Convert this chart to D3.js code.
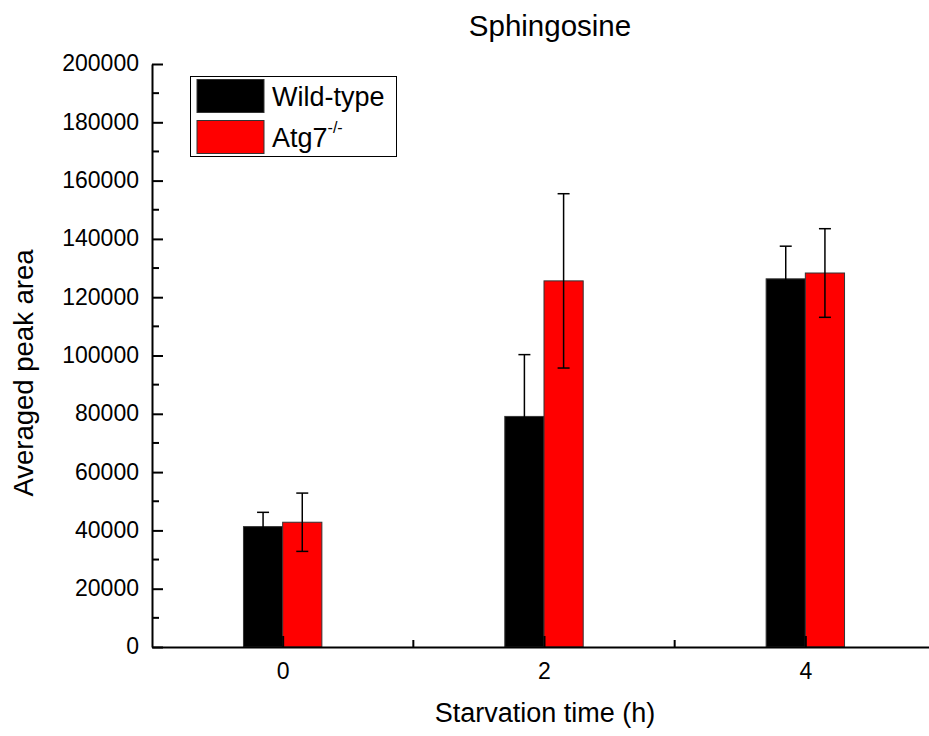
<!DOCTYPE html>
<html><head><meta charset="utf-8">
<script src="https://cdn.jsdelivr.net/npm/d3@7"></script>
<style>body{margin:0;background:#fff}svg{display:block;font-family:Arial,"Liberation Sans",sans-serif}</style>
</head><body>
<svg id="c" width="929" height="736"></svg>
<script>
const categories = [0, 2, 4];
const wildType = [41300, 79100, 126300];
const wildTypeErr = [4900, 21200, 11200];
const atg7 = [42800, 125600, 128300];
const atg7Err = [10000, 29900, 15200];
const yTicks = [0, 20000, 40000, 60000, 80000, 100000, 120000, 140000, 160000, 180000, 200000];
const seriesNames = ["Wild-type", "Atg7"];
const seriesColors = ["#000000", "#ff0000"];

const svg = d3.select("#c");
const x = d3.scaleLinear().domain([-1, 5]).range([152, 936]);
const y = d3.scaleLinear().domain([0, 200000]).range([647, 64]);
const bw = x(0.3) - x(0);
const FONT = "Arial, 'Liberation Sans', sans-serif";

// bars
const series = [
  {vals: wildType, errs: wildTypeErr, off: -0.3, color: seriesColors[0]},
  {vals: atg7, errs: atg7Err, off: 0, color: seriesColors[1]}
];
series.forEach(s => {
  const g = svg.append("g");
  g.selectAll("rect").data(categories).enter().append("rect")
    .attr("x", (d) => x(d + s.off))
    .attr("y", (d, i) => y(s.vals[i]))
    .attr("width", bw)
    .attr("height", (d, i) => y(0) - y(s.vals[i]))
    .attr("fill", s.color)
    .attr("stroke", "#333").attr("stroke-width", 1);
});
series.forEach(s => {
  const g = svg.append("g").attr("stroke", "#000").attr("stroke-width", 1.5);
  categories.forEach((d, i) => {
    const cx = x(d + s.off + 0.15);
    const top = y(s.vals[i] + s.errs[i]);
    const bot = y(s.vals[i] - s.errs[i]);
    g.append("line").attr("x1", cx).attr("x2", cx).attr("y1", top).attr("y2", bot);
    g.append("line").attr("x1", cx - 6).attr("x2", cx + 6).attr("y1", top).attr("y2", top);
    g.append("line").attr("x1", cx - 6).attr("x2", cx + 6).attr("y1", bot).attr("y2", bot);
  });
});

// y axis
const yAxis = d3.axisLeft(y).tickValues(yTicks).tickFormat(d3.format("d")).tickSizeInner(-11).tickSizeOuter(0).tickPadding(13);
const ya = svg.append("g").attr("transform", "translate(152,0)").call(yAxis);
ya.select(".domain").attr("stroke-width", 2);
ya.selectAll(".tick line").attr("stroke-width", 2);
ya.selectAll("text").attr("font-size", 23).attr("dy", "0.3em").attr("fill", "#000").attr("font-family", FONT);
const yMinor = d3.range(10000, 200000, 20000);
svg.append("g").selectAll("line").data(yMinor).enter().append("line")
  .attr("x1", 152).attr("x2", 159).attr("y1", d => y(d)).attr("y2", d => y(d))
  .attr("stroke", "#000").attr("stroke-width", 2);

// x axis
const xAxis = d3.axisBottom(x).tickValues(categories).tickFormat(d3.format("d")).tickSizeInner(-11).tickSizeOuter(0).tickPadding(16);
const xa = svg.append("g").attr("transform", "translate(0,647)").call(xAxis);
xa.select(".domain").attr("stroke-width", 2);
xa.selectAll(".tick line").attr("stroke-width", 2);
xa.selectAll("text").attr("font-size", 23).attr("fill", "#000").attr("font-family", FONT);
svg.append("g").selectAll("line").data([1, 3]).enter().append("line")
  .attr("x1", d => x(d)).attr("x2", d => x(d)).attr("y1", 647).attr("y2", 640)
  .attr("stroke", "#000").attr("stroke-width", 2);

// titles
svg.append("text").attr("x", 550).attr("y", 36).attr("text-anchor", "middle").attr("font-size", 29.5).text("Sphingosine");
svg.append("text").attr("x", 545).attr("y", 722).attr("text-anchor", "middle").attr("font-size", 27).text("Starvation time (h)");
svg.append("text").attr("transform", "translate(33,373) rotate(-90)").attr("text-anchor", "middle").attr("font-size", 27.5).text("Averaged peak area");

// legend
const lg = svg.append("g");
lg.append("rect").attr("x", 190.5).attr("y", 76.5).attr("width", 206).attr("height", 80).attr("fill", "#fff").attr("stroke", "#000").attr("stroke-width", 1);
seriesNames.forEach((n, i) => {
  const yy = 79.5 + i * 41;
  lg.append("rect").attr("x", 197).attr("y", yy).attr("width", 67).attr("height", 33).attr("fill", seriesColors[i]).attr("stroke", "#333");
  const t = lg.append("text").attr("x", 272).attr("y", yy + 26).attr("font-size", 27).text(n);
  if (i === 1) t.append("tspan").attr("font-size", 16).attr("dy", -14).text("-/-");
});
</script>
</body></html>
